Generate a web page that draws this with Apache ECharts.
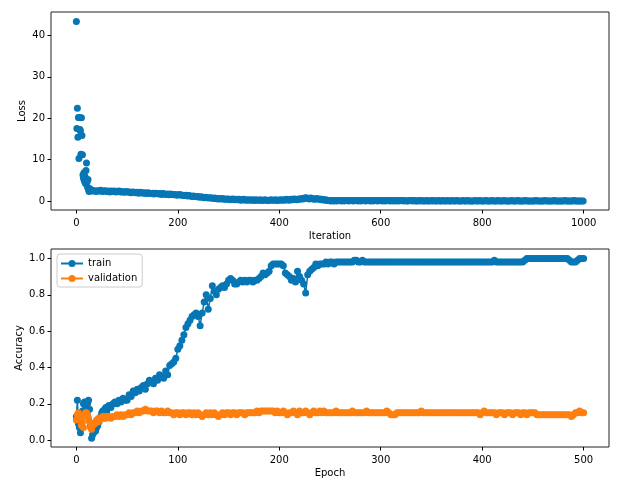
<!DOCTYPE html>
<html><head><meta charset="utf-8">
<script src="https://cdn.jsdelivr.net/npm/echarts@6/dist/echarts.min.js"></script>
<style>html,body{margin:0;padding:0;background:#fff}#c{width:626px;height:494px}</style>
</head><body><div id="c"></div>
<script>
// ---- Loss per iteration ----
// iterations 0..29 (every iteration)
const lossEarly = [43.4,17.5,22.4,15.4,20.2,10.3,20.2,17.3,16.9,11.3,
  20.1,15.8,11.2,6.3,5.5,6.8,4.8,5.9,4.2,7.4,
  9.2,4.6,3.3,5.2,2.8,2.3,3.0,2.6,2.4,2.7];
// iterations 30..999, read every 3 iterations (each row = 30 iterations)
const lossLateStart = 30, lossLateStep = 3;
const lossLate = [
  2.6,2.4,2.5,2.3,2.5,2.4,2.6,2.3,2.4,2.5,
  2.3,2.4,2.2,2.4,2.3,2.4,2.2,2.3,2.4,2.2,
  2.3,2.1,2.2,2.3,2.1,2.2,2.0,2.2,2.1,2.0,
  2.1,1.9,2.1,2.0,1.9,2.0,1.8,2.0,1.9,1.8,
  1.9,1.7,1.9,1.8,1.7,1.8,1.6,1.8,1.7,1.6,
  1.7,1.5,1.7,1.6,1.5,1.6,1.4,1.5,1.6,1.4,
  1.4,1.3,1.4,1.2,1.3,1.2,1.1,1.2,1.1,1.0,
  1.1,0.9,1.0,0.9,0.8,0.9,0.8,0.7,0.8,0.7,
  0.6,0.7,0.6,0.5,0.6,0.5,0.6,0.4,0.5,0.4,
  0.5,0.3,0.4,0.5,0.3,0.4,0.3,0.4,0.2,0.3,
  0.4,0.2,0.3,0.2,0.3,0.2,0.3,0.1,0.3,0.2,
  0.2,0.3,0.1,0.2,0.3,0.2,0.1,0.2,0.3,0.2,
  0.2,0.3,0.1,0.2,0.3,0.2,0.3,0.2,0.4,0.3,
  0.2,0.4,0.3,0.5,0.4,0.3,0.5,0.4,0.6,0.5,
  0.7,0.8,0.6,0.5,0.7,0.6,0.4,0.5,0.6,0.4,
  0.5,0.3,0.4,0.2,0.3,0.1,0.1,0.0,0.1,0.0,
  0.1,0.0,0.1,0.1,0.0,0.1,0.0,0.1,0.1,0.0,
  0.1,0.1,0.0,0.1,0.1,0.0,0.1,0.0,0.1,0.1,
  0.0,0.1,0.1,0.0,0.1,0.0,0.1,0.1,0.0,0.1,
  0.1,0.0,0.1,0.0,0.1,0.1,0.0,0.1,0.0,0.1,
  0.0,0.1,0.0,0.1,0.1,0.0,0.1,0.0,0.0,0.1,
  0.1,0.0,0.1,0.0,0.0,0.1,0.0,0.1,0.0,0.0,
  0.1,0.0,0.0,0.1,0.0,0.1,0.0,0.0,0.1,0.0,
  0.0,0.1,0.0,0.0,0.1,0.0,0.0,0.1,0.0,0.0,
  0.1,0.0,0.0,0.0,0.1,0.0,0.0,0.1,0.0,0.0,
  0.0,0.0,0.1,0.0,0.0,0.1,0.0,0.0,0.0,0.1,
  0.0,0.0,0.0,0.1,0.0,0.0,0.0,0.1,0.0,0.0,
  0.0,0.1,0.0,0.0,0.0,0.0,0.1,0.0,0.0,0.0,
  0.1,0.0,0.0,0.0,0.0,0.1,0.0,0.0,0.0,0.0,
  0.0,0.0,0.1,0.0,0.0,0.0,0.0,0.0,0.1,0.0,
  0.0,0.0,0.0,0.0,0.1,0.0,0.0,0.0,0.0,0.0,
  0.0,0.1,0.0,0.0,0.0,0.0,0.0,0.1,0.0,0.0,
  0.0,0.0,0.0,0.0];

// ---- Accuracy per epoch ----
// epochs 0..31 (every epoch)
const trainEarly = [0.13,0.22,0.09,0.07,0.04,0.10,0.16,0.20,0.21,0.14,
  0.19,0.20,0.22,0.17,0.08,0.01,0.03,0.04,0.06,0.05,
  0.07,0.08,0.10,0.11,0.13,0.15,0.16,0.14,0.17,0.18,0.16,0.18];
const valEarly = [0.11,0.14,0.15,0.11,0.12,0.08,0.10,0.07,0.14,0.15,
  0.15,0.14,0.12,0.10,0.07,0.06,0.08,0.09,0.09,0.10,
  0.11,0.10,0.12,0.11,0.12,0.12,0.13,0.12,0.13,0.12,0.13,0.13];
// epochs 32..500, read every 2 epochs (each row = 20 epochs)
const accLateStart = 32, accLateStep = 2;
const trainLate = [
  0.19,0.18,0.20,0.21,0.20,0.22,0.21,0.23,0.22,0.22,
  0.25,0.24,0.27,0.26,0.28,0.27,0.29,0.30,0.28,0.31,
  0.33,0.32,0.31,0.34,0.33,0.36,0.35,0.34,0.38,0.36,
  0.41,0.42,0.43,0.45,0.50,0.52,0.55,0.58,0.62,0.64,
  0.66,0.68,0.69,0.70,0.68,0.63,0.70,0.76,0.80,0.72,
  0.78,0.85,0.82,0.80,0.83,0.84,0.85,0.84,0.86,0.88,
  0.89,0.88,0.86,0.86,0.87,0.88,0.87,0.88,0.87,0.88,
  0.88,0.87,0.88,0.88,0.89,0.90,0.92,0.91,0.92,0.93,
  0.96,0.97,0.97,0.97,0.97,0.97,0.96,0.92,0.91,0.90,
  0.88,0.89,0.87,0.93,0.90,0.88,0.86,0.81,0.91,0.93,
  0.94,0.95,0.97,0.96,0.97,0.97,0.97,0.98,0.97,0.98,
  0.98,0.97,0.98,0.98,0.98,0.98,0.98,0.98,0.98,0.98,
  0.98,0.99,0.99,0.98,0.98,0.99,0.98,0.98,0.98,0.98,
  0.98,0.98,0.98,0.98,0.98,0.98,0.98,0.98,0.98,0.98,
  0.98,0.98,0.98,0.98,0.98,0.98,0.98,0.98,0.98,0.98,
  0.98,0.98,0.98,0.98,0.98,0.98,0.98,0.98,0.98,0.98,
  0.98,0.98,0.98,0.98,0.98,0.98,0.98,0.98,0.98,0.98,
  0.98,0.98,0.98,0.98,0.98,0.98,0.98,0.98,0.98,0.98,
  0.98,0.98,0.98,0.98,0.98,0.98,0.98,0.98,0.98,0.98,
  0.99,0.98,0.98,0.98,0.98,0.98,0.98,0.98,0.98,0.98,
  0.98,0.98,0.98,0.98,0.98,0.99,1.00,1.00,1.00,1.00,
  1.00,1.00,1.00,1.00,1.00,1.00,1.00,1.00,1.00,1.00,
  1.00,1.00,1.00,1.00,1.00,1.00,1.00,0.99,0.98,0.98,
  0.98,0.99,1.00,1.00,1.00];
const valLate = [
  0.13,0.12,0.13,0.13,0.14,0.13,0.14,0.13,0.14,0.14,
  0.15,0.14,0.15,0.15,0.16,0.15,0.16,0.16,0.17,0.16,
  0.16,0.16,0.15,0.16,0.16,0.15,0.16,0.15,0.15,0.16,
  0.15,0.15,0.14,0.15,0.15,0.14,0.15,0.15,0.14,0.15,
  0.15,0.14,0.15,0.14,0.15,0.14,0.13,0.14,0.15,0.14,
  0.15,0.14,0.15,0.14,0.13,0.14,0.15,0.14,0.15,0.15,
  0.14,0.15,0.15,0.14,0.15,0.15,0.15,0.14,0.15,0.15,
  0.15,0.15,0.15,0.16,0.15,0.16,0.16,0.16,0.16,0.16,
  0.16,0.16,0.15,0.16,0.15,0.15,0.16,0.15,0.14,0.15,
  0.15,0.16,0.15,0.14,0.16,0.15,0.15,0.16,0.15,0.14,
  0.15,0.16,0.15,0.15,0.16,0.15,0.16,0.15,0.15,0.15,
  0.15,0.15,0.16,0.15,0.15,0.15,0.15,0.15,0.15,0.15,
  0.16,0.15,0.15,0.15,0.15,0.15,0.15,0.16,0.15,0.15,
  0.15,0.15,0.15,0.15,0.15,0.15,0.15,0.16,0.15,0.14,
  0.14,0.14,0.15,0.15,0.15,0.15,0.15,0.15,0.15,0.15,
  0.15,0.15,0.15,0.15,0.16,0.15,0.15,0.15,0.15,0.15,
  0.15,0.15,0.15,0.15,0.15,0.15,0.15,0.15,0.15,0.15,
  0.15,0.15,0.15,0.15,0.15,0.15,0.15,0.15,0.15,0.15,
  0.15,0.15,0.15,0.14,0.15,0.16,0.15,0.15,0.15,0.15,
  0.15,0.14,0.15,0.15,0.15,0.14,0.15,0.15,0.15,0.14,
  0.15,0.15,0.15,0.14,0.15,0.15,0.14,0.15,0.15,0.15,
  0.15,0.14,0.14,0.14,0.14,0.14,0.14,0.14,0.14,0.14,
  0.14,0.14,0.14,0.14,0.14,0.14,0.14,0.14,0.13,0.14,
  0.15,0.15,0.16,0.15,0.15];

// ---- tick labels ----
const iterTicks = [0,200,400,600,800,1000];
const lossTicks = [0,10,20,30,40];
const epochTicks = [0,100,200,300,400,500];
const accTicks = [0,0.2,0.4,0.6,0.8,1.0];
const seriesNames = ['train','validation'];

// ---- build point lists (x = iteration / epoch index) ----
const lossPts = lossEarly.map((v,i)=>[i,v])
  .concat(lossLate.map((v,i)=>[lossLateStart + i*lossLateStep, v]));
const trainPts = trainEarly.map((v,i)=>[i,v])
  .concat(trainLate.map((v,i)=>[accLateStart + i*accLateStep, v]));
const valPts = valEarly.map((v,i)=>[i,v])
  .concat(valLate.map((v,i)=>[accLateStart + i*accLateStep, v]));

const BLUE = '#0776b5', ORANGE = '#ff7f0e', INK = '#000';
const FONT = 'DejaVu Sans';
const MARK = 7;

function valAxis(ticks, min, max, name, gap, margin, fmt, idx) {
  return {
    type:'value', gridIndex: idx, min:min, max:max,
    splitLine:{show:false}, axisLine:{show:false, onZero:false},
    axisTick:{show:true, length:3.5, lineStyle:{color:INK, width:1}, customValues:ticks},
    axisLabel:{customValues:ticks, fontFamily:FONT, fontSize:10, color:INK, margin:margin,
      formatter: fmt || (v=>String(v))},
    name:name, nameLocation:'middle', nameGap:gap, nameMoveOverlap:false,
    nameTextStyle:{fontFamily:FONT, fontSize:10, color:INK}
  };
}

const chart = echarts.init(document.getElementById('c'), null, {renderer:'canvas'});
chart.setOption({
  animation:false,
  backgroundColor:'#fff',
  grid:[
    {left:51, top:12, width:558, height:198, show:true, borderColor:'#222', borderWidth:1, backgroundColor:'transparent'},
    {left:51, top:249, width:558, height:198, show:true, borderColor:'#222', borderWidth:1, backgroundColor:'transparent'}
  ],
  xAxis:[
    valAxis(iterTicks, -50, 1050, 'Iteration', 21, 8, null, 0),
    valAxis(epochTicks, -25, 525, 'Epoch', 21, 8, null, 1)
  ],
  yAxis:[
    valAxis(lossTicks, -2.175, 45.675, 'Loss', 24, 6, null, 0),
    valAxis(accTicks, -0.038, 1.052, 'Accuracy', 27, 6, v=>v.toFixed(1), 1)
  ],
  legend:{
    data:seriesNames, orient:'vertical', left:57, top:254,
    itemWidth:22, itemHeight:8.75, itemGap:5, padding:[4.5,5,3.5,3],
    borderColor:'#cccccc', borderWidth:1, borderRadius:3, backgroundColor:'#fff',
    textStyle:{fontFamily:FONT, fontSize:10, color:INK}
  },
  series:[
    {type:'scatter', name:'loss', xAxisIndex:0, yAxisIndex:0, data:lossPts,
      symbol:'circle', symbolSize:MARK, itemStyle:{color:BLUE, opacity:1}},
    {type:'line', name:seriesNames[0], xAxisIndex:1, yAxisIndex:1, data:trainPts,
      symbol:'circle', symbolSize:MARK, showSymbol:true, showAllSymbol:true,
      lineStyle:{width:1.5, color:BLUE}, itemStyle:{color:BLUE}},
    {type:'line', name:seriesNames[1], xAxisIndex:1, yAxisIndex:1, data:valPts,
      symbol:'circle', symbolSize:MARK, showSymbol:true, showAllSymbol:true,
      lineStyle:{width:1.5, color:ORANGE}, itemStyle:{color:ORANGE}}
  ]
});
</script></body></html>
